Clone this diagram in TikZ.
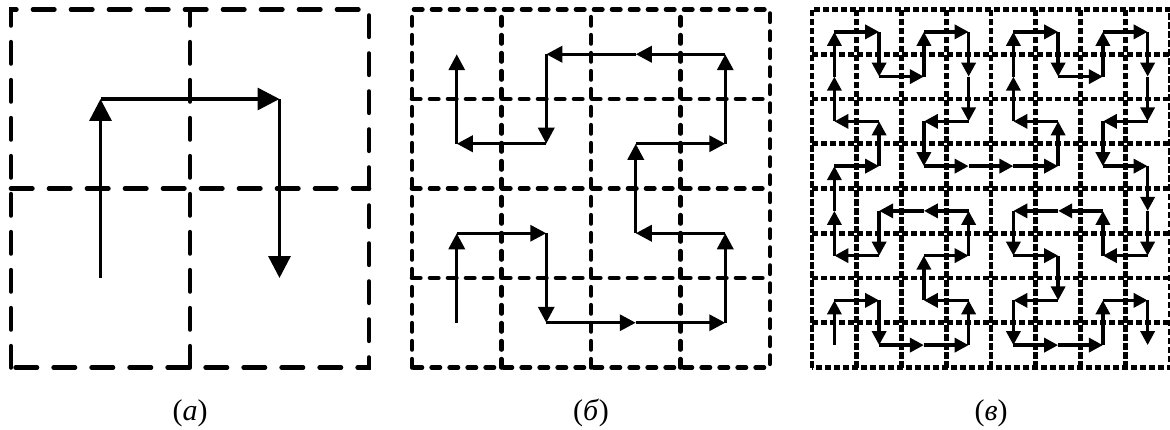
\documentclass[tikz,border=0pt]{standalone}
\usepackage{fontspec}
\setmainfont{Liberation Serif}
\usetikzlibrary{arrows.meta}
\tikzset{
  gridline/.style={line width=2.3pt, line cap=round},
  bigdash/.style={gridline, dash pattern=on 10.7pt off 8.3pt},
  middash/.style={gridline, dash pattern=on 4.2pt off 4.8pt},
  smalldash/.style={gridline, line cap=butt, dash pattern=on 3.1pt off 1.4pt},
  hilbert/.style={line width=1.7pt, -{Triangle[length=#1, width=#1]}},
  caption/.style={font=\fontsize{15}{18}\selectfont, anchor=base}
}

\begin{document}
\begin{tikzpicture}[x=0.5pt, y=0.5pt]
  \useasboundingbox (0,0) rectangle (1170,429);

  % (a) first order
  \begin{scope}[shift={(11,61.5)}, x=89.5pt, y=89.5pt]
    \draw[bigdash] (0,0) rectangle (2,2);
    \draw[bigdash] (1,0) -- (1,2);
    \draw[bigdash] (0,1) -- (2,1);
    \begin{scope}[shift={(0.5,0.5)}]
      \foreach \x/\y [remember=\x as \px (initially 0), remember=\y as \py (initially 0)]
        in {0/1,1/1,1/0}
        \draw[hilbert=11pt] (\px,\py) -- (\x,\y);
    \end{scope}
  \end{scope}

  % (b) second order
  \begin{scope}[shift={(412,61.5)}, x=44.75pt, y=44.75pt]
    \draw[middash] (0,0) rectangle (4,4);
    \foreach \i in {1,2,3} {
      \draw[middash] (\i,0) -- (\i,4);
      \draw[middash] (0,\i) -- (4,\i);
    }
    \begin{scope}[shift={(0.5,0.5)}]
      \foreach \x/\y [remember=\x as \px (initially 0), remember=\y as \py (initially 0)]
        in {0/1,1/1,1/0,2/0,3/0,3/1,2/1,2/2,3/2,3/3,2/3,1/3,1/2,0/2,0/3}
        \draw[hilbert=8pt] (\px,\py) -- (\x,\y);
    \end{scope}
  \end{scope}

  % (c) third order
  \begin{scope}[shift={(812,61.5)}, x=22.375pt, y=22.375pt]
    \draw[smalldash] (0,0) rectangle (8,8);
    \foreach \i in {1,...,7} {
      \draw[smalldash] (\i,0) -- (\i,8);
      \draw[smalldash] (0,\i) -- (8,\i);
    }
    \begin{scope}[shift={(0.5,0.5)}]
      \foreach \x/\y [remember=\x as \px (initially 0), remember=\y as \py (initially 0)]
        in {0/1,1/1,1/0,2/0,3/0,3/1,2/1,2/2,3/2,3/3,2/3,1/3,1/2,0/2,0/3,
            0/4,1/4,1/5,0/5,0/6,0/7,1/7,1/6,2/6,2/7,3/7,3/6,3/5,2/5,2/4,3/4,
            4/4,5/4,5/5,4/5,4/6,4/7,5/7,5/6,6/6,6/7,7/7,7/6,7/5,6/5,6/4,7/4,
            7/3,7/2,6/2,6/3,5/3,4/3,4/2,5/2,5/1,4/1,4/0,5/0,6/0,6/1,7/1,7/0}
        \draw[hilbert=7pt] (\px,\py) -- (\x,\y);
    \end{scope}
  \end{scope}

  \node[caption] (capa) at (190,9) {(\textit{а})};
  \node[caption] (capb) at (591,9) {(\textit{б})};
  \node[caption] (capc) at (991,9) {(\textit{в})};
\end{tikzpicture}
\end{document}
